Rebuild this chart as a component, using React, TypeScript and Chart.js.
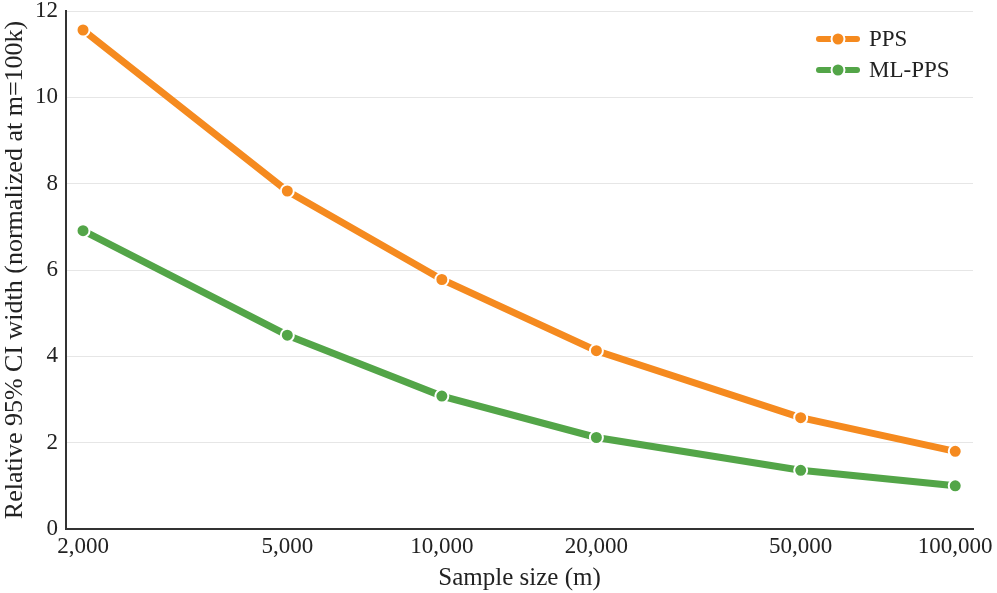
import React, { useEffect, useRef } from "react";
import { Chart, registerables } from "chart.js";

Chart.register(...registerables);

const sampleSizes = [2000, 5000, 10000, 20000, 50000, 100000];
const ppsValues = [11.56, 7.83, 5.78, 4.13, 2.58, 1.8];
const mlPpsValues = [6.91, 4.49, 3.08, 2.12, 1.36, 1.0];
const xTickValues = [2000, 5000, 10000, 20000, 50000, 100000];
const seriesLabels = ["PPS", "ML-PPS"];
const seriesColors = ["#F58A1F", "#53A548"];

const FONT = '"Liberation Serif", "Times New Roman", Times, serif';

const insideLegend = {
  id: "insideLegend",
  afterDraw(chart: any) {
    const ctx = chart.ctx as CanvasRenderingContext2D;
    const area = chart.chartArea;
    const x0 = 816;
    const rows = [area.top + 28, area.top + 59];
    chart.data.datasets.forEach((ds: any, i: number) => {
      const y = rows[i];
      ctx.save();
      ctx.strokeStyle = ds.borderColor;
      ctx.lineWidth = 6;
      ctx.lineCap = "round";
      ctx.beginPath();
      ctx.moveTo(x0 + 3, y);
      ctx.lineTo(x0 + 41, y);
      ctx.stroke();
      ctx.beginPath();
      ctx.arc(x0 + 22, y, 6.5, 0, Math.PI * 2);
      ctx.fillStyle = ds.backgroundColor;
      ctx.fill();
      ctx.lineWidth = 2;
      ctx.strokeStyle = "#ffffff";
      ctx.stroke();
      ctx.fillStyle = "#222222";
      ctx.font = `23px ${FONT}`;
      ctx.textBaseline = "middle";
      ctx.textAlign = "left";
      ctx.fillText(ds.label, x0 + 53, y + 1);
      ctx.restore();
    });
  },
};

export default function App() {
  const ref = useRef<HTMLCanvasElement | null>(null);

  useEffect(() => {
    if (!ref.current) return;
    const makeDs = (label: string, values: number[], color: string) => ({
      label,
      data: sampleSizes.map((x, i) => ({ x, y: values[i] })),
      borderColor: color,
      backgroundColor: color,
      borderWidth: 7,
      pointRadius: 6.5,
      pointHoverRadius: 6.5,
      pointBorderWidth: 2,
      pointBorderColor: "#ffffff",
      pointBackgroundColor: color,
      tension: 0,
      fill: false,
    });
    const chart = new Chart(ref.current, {
      type: "line",
      data: {
        datasets: [
          makeDs(seriesLabels[0], ppsValues, seriesColors[0]),
          makeDs(seriesLabels[1], mlPpsValues, seriesColors[1]),
        ],
      },
      options: {
        animation: false,
        responsive: false,
        maintainAspectRatio: false,
        layout: { padding: { top: 11, right: 24, left: 0, bottom: 0 } },
        plugins: {
          legend: { display: false },
          tooltip: { enabled: false },
        },
        scales: {
          x: {
            type: "logarithmic",
            min: 1853,
            max: 108300,
            afterBuildTicks(axis: any) {
              axis.ticks = xTickValues.map((v) => ({ value: v, major: false }));
            },
            afterFit(axis: any) {
              axis.height = 64;
              axis.paddingLeft = 0;
              axis.paddingRight = 0;
            },
            grid: { display: false, drawTicks: false },
            border: { display: true, color: "#333333", width: 2 },
            ticks: {
              autoSkip: false,
              maxRotation: 0,
              padding: 4,
              color: "#222222",
              font: { family: FONT, size: 23 },
              callback: (v: any) => Number(v).toLocaleString("en-US"),
            },
            title: {
              display: true,
              text: "Sample size (m)",
              color: "#222222",
              font: { family: FONT, size: 25 },
              padding: { top: 0, bottom: 0 },
            },
          },
          y: {
            min: 0,
            max: 12,
            afterFit(axis: any) {
              axis.width = 66;
              axis.paddingTop = 0;
              axis.paddingBottom = 0;
            },
            ticks: {
              stepSize: 2,
              padding: 8,
              color: "#222222",
              font: { family: FONT, size: 23 },
            },
            grid: { color: "#e6e6e6", lineWidth: 1, drawTicks: false },
            border: { display: true, color: "#333333", width: 2 },
            title: {
              display: true,
              text: "Relative 95% CI width (normalized at m=100k)",
              color: "#222222",
              font: { family: FONT, size: 26 },
              padding: { top: 0, bottom: 0 },
            },
          },
        },
      },
      plugins: [insideLegend],
    });
    return () => chart.destroy();
  }, []);

  return (
    <div style={{ position: "absolute", left: 0, top: 0, width: 997, height: 593, background: "#fff" }}>
      <canvas ref={ref} width={997} height={593} style={{ width: 997, height: 593, display: "block" }} />
    </div>
  );
}
